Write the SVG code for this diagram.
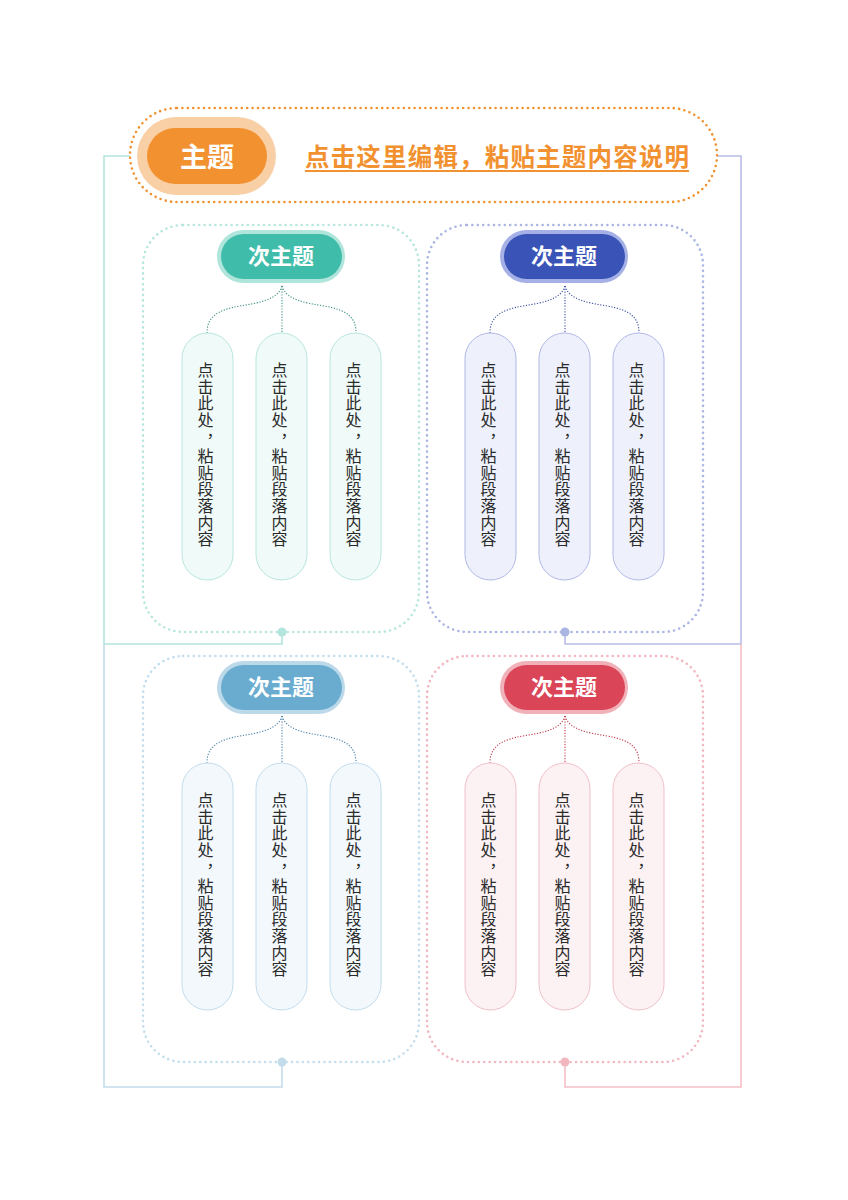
<svg xmlns="http://www.w3.org/2000/svg" width="848" height="1200" viewBox="0 0 848 1200">
<style>
.box{fill:none;stroke-width:2.6;stroke-dasharray:0 5.4;stroke-linecap:round}
.link{fill:none;stroke-width:1.6}
.sub{fill:none;stroke-width:1.1;stroke-dasharray:1.2 1.6}
.leaf{stroke-width:1}
.st{font-family:"Noto Sans CJK SC","Noto Sans",sans-serif;font-weight:bold;font-size:22px;fill:#fff;text-anchor:middle}
.lt{font-family:"Noto Sans CJK SC","Noto Sans",sans-serif;font-size:16px;fill:#2b2b2b;text-anchor:middle}
</style>
<rect width="848" height="1200" fill="#fff"/>
<g id="connectors">
<path class="link" stroke="#b2e5dc" d="M130,156 H104 V644 H282 V632"/>
<path class="link" stroke="#c4dcea" d="M104,644 V1087 H282 V1062"/>
<path class="link" stroke="#b9bce6" d="M717,156 H741 V644 H565 V632"/>
<path class="link" stroke="#f4c0c6" d="M741,644 V1087 H565 V1062"/>
<circle cx="282" cy="632" r="4.5" fill="#b2e5dc"/>
<circle cx="565" cy="632" r="4.5" fill="#aab5e3"/>
<circle cx="282" cy="1062" r="4.5" fill="#c4dcea"/>
<circle cx="565" cy="1062" r="4.5" fill="#f2b6bf"/>
<g id="sub-links-tl" stroke="#3d8f84">
<path class="sub" d="M282,286 C278,300 258,303 240,306 C216,310 207,318 207,333"/>
<path class="sub" d="M282,286 V333"/>
<path class="sub" d="M282,286 C286,300 306,303 324,306 C348,310 356,318 356,333"/>
</g>
<g id="sub-links-tr" stroke="#3a4fa0" transform="translate(283,0)">
<path class="sub" d="M282,286 C278,300 258,303 240,306 C216,310 207,318 207,333"/>
<path class="sub" d="M282,286 V333"/>
<path class="sub" d="M282,286 C286,300 306,303 324,306 C348,310 356,318 356,333"/>
</g>
<g id="sub-links-bl" stroke="#4a7fa5" transform="translate(0,430)">
<path class="sub" d="M282,286 C278,300 258,303 240,306 C216,310 207,318 207,333"/>
<path class="sub" d="M282,286 V333"/>
<path class="sub" d="M282,286 C286,300 306,303 324,306 C348,310 356,318 356,333"/>
</g>
<g id="sub-links-br" stroke="#c0394a" transform="translate(283,430)">
<path class="sub" d="M282,286 C278,300 258,303 240,306 C216,310 207,318 207,333"/>
<path class="sub" d="M282,286 V333"/>
<path class="sub" d="M282,286 C286,300 306,303 324,306 C348,310 356,318 356,333"/>
</g>
</g>
<g id="main">
<rect class="box" stroke="#f29130" x="130" y="108" width="587" height="94" rx="47"/>
<rect x="137" y="117" width="139" height="78" rx="39" fill="#f9d0a6"/>
<rect x="147" y="128" width="120" height="56" rx="28" fill="#f29130"/>
<text x="207" y="167" font-family="'Noto Sans CJK SC','Noto Sans',sans-serif" font-weight="bold" font-size="27" fill="#fff" text-anchor="middle">主题</text>
<text x="305" y="166" textLength="384" font-family="'Noto Sans CJK SC','Noto Sans',sans-serif" font-weight="bold" font-size="24.5" fill="#f29130">点击这里编辑，粘贴主题内容说明</text>
<line x1="305" y1="171" x2="689" y2="171" stroke="#f29130" stroke-width="2"/>
</g>
<g id="quad-tl">
<rect class="box" stroke="#b6e6dd" x="143" y="225" width="276" height="407" rx="40"/>
<rect x="217" y="230" width="128" height="53" rx="26.5" fill="#b0e5dc"/>
<rect x="221" y="234" width="121" height="45" rx="22.5" fill="#40bdaa"/>
<text class="st" x="281" y="264">次主题</text>
<g fill="#f0faf8" stroke="#b8e6de" class="leaf">
<rect x="182" y="333" width="51" height="247" rx="25.5"/>
<rect x="256" y="333" width="51" height="247" rx="25.5"/>
<rect x="330" y="333" width="51" height="247" rx="25.5"/>
</g>
<text class="lt" x="205.5 205.5 205.5 205.5 214.5 205.5 205.5 205.5 205.5 205.5 205.5" y="376 392.7 409.3 426 437 462 478.7 495.3 512 528.7 545.3">点击此处，粘贴段落内容</text>
<text class="lt" x="279.5 279.5 279.5 279.5 288.5 279.5 279.5 279.5 279.5 279.5 279.5" y="376 392.7 409.3 426 437 462 478.7 495.3 512 528.7 545.3">点击此处，粘贴段落内容</text>
<text class="lt" x="353.5 353.5 353.5 353.5 362.5 353.5 353.5 353.5 353.5 353.5 353.5" y="376 392.7 409.3 426 437 462 478.7 495.3 512 528.7 545.3">点击此处，粘贴段落内容</text>
</g>
<g id="quad-tr" transform="translate(283,0)">
<rect class="box" stroke="#aab5e3" x="144" y="225" width="276" height="407" rx="40"/>
<rect x="217" y="230" width="128" height="53" rx="26.5" fill="#a5b1e6"/>
<rect x="221" y="234" width="121" height="45" rx="22.5" fill="#3953b7"/>
<text class="st" x="281" y="264">次主题</text>
<g fill="#eef1fc" stroke="#b0b8e6" class="leaf">
<rect x="182" y="333" width="51" height="247" rx="25.5"/>
<rect x="256" y="333" width="51" height="247" rx="25.5"/>
<rect x="330" y="333" width="51" height="247" rx="25.5"/>
</g>
<text class="lt" x="205.5 205.5 205.5 205.5 214.5 205.5 205.5 205.5 205.5 205.5 205.5" y="376 392.7 409.3 426 437 462 478.7 495.3 512 528.7 545.3">点击此处，粘贴段落内容</text>
<text class="lt" x="279.5 279.5 279.5 279.5 288.5 279.5 279.5 279.5 279.5 279.5 279.5" y="376 392.7 409.3 426 437 462 478.7 495.3 512 528.7 545.3">点击此处，粘贴段落内容</text>
<text class="lt" x="353.5 353.5 353.5 353.5 362.5 353.5 353.5 353.5 353.5 353.5 353.5" y="376 392.7 409.3 426 437 462 478.7 495.3 512 528.7 545.3">点击此处，粘贴段落内容</text>
</g>
<g id="quad-bl" transform="translate(0,430)">
<rect class="box" stroke="#c2dded" x="143" y="226" width="276" height="406" rx="40"/>
<rect x="217" y="231" width="128" height="53" rx="26.5" fill="#bcd9ea"/>
<rect x="221" y="235" width="121" height="45" rx="22.5" fill="#6aaccf"/>
<text class="st" x="281" y="265">次主题</text>
<g fill="#f2f8fc" stroke="#c2dcec" class="leaf">
<rect x="182" y="333" width="51" height="247" rx="25.5"/>
<rect x="256" y="333" width="51" height="247" rx="25.5"/>
<rect x="330" y="333" width="51" height="247" rx="25.5"/>
</g>
<text class="lt" x="205.5 205.5 205.5 205.5 214.5 205.5 205.5 205.5 205.5 205.5 205.5" y="376 392.7 409.3 426 437 462 478.7 495.3 512 528.7 545.3">点击此处，粘贴段落内容</text>
<text class="lt" x="279.5 279.5 279.5 279.5 288.5 279.5 279.5 279.5 279.5 279.5 279.5" y="376 392.7 409.3 426 437 462 478.7 495.3 512 528.7 545.3">点击此处，粘贴段落内容</text>
<text class="lt" x="353.5 353.5 353.5 353.5 362.5 353.5 353.5 353.5 353.5 353.5 353.5" y="376 392.7 409.3 426 437 462 478.7 495.3 512 528.7 545.3">点击此处，粘贴段落内容</text>
</g>
<g id="quad-br" transform="translate(283,430)">
<rect class="box" stroke="#f2b6bf" x="144" y="226" width="276" height="406" rx="40"/>
<rect x="217" y="231" width="128" height="53" rx="26.5" fill="#f1b1b9"/>
<rect x="221" y="235" width="121" height="45" rx="22.5" fill="#da4558"/>
<text class="st" x="281" y="265">次主题</text>
<g fill="#fcf1f3" stroke="#f0c0c8" class="leaf">
<rect x="182" y="333" width="51" height="247" rx="25.5"/>
<rect x="256" y="333" width="51" height="247" rx="25.5"/>
<rect x="330" y="333" width="51" height="247" rx="25.5"/>
</g>
<text class="lt" x="205.5 205.5 205.5 205.5 214.5 205.5 205.5 205.5 205.5 205.5 205.5" y="376 392.7 409.3 426 437 462 478.7 495.3 512 528.7 545.3">点击此处，粘贴段落内容</text>
<text class="lt" x="279.5 279.5 279.5 279.5 288.5 279.5 279.5 279.5 279.5 279.5 279.5" y="376 392.7 409.3 426 437 462 478.7 495.3 512 528.7 545.3">点击此处，粘贴段落内容</text>
<text class="lt" x="353.5 353.5 353.5 353.5 362.5 353.5 353.5 353.5 353.5 353.5 353.5" y="376 392.7 409.3 426 437 462 478.7 495.3 512 528.7 545.3">点击此处，粘贴段落内容</text>
</g>
</svg>
